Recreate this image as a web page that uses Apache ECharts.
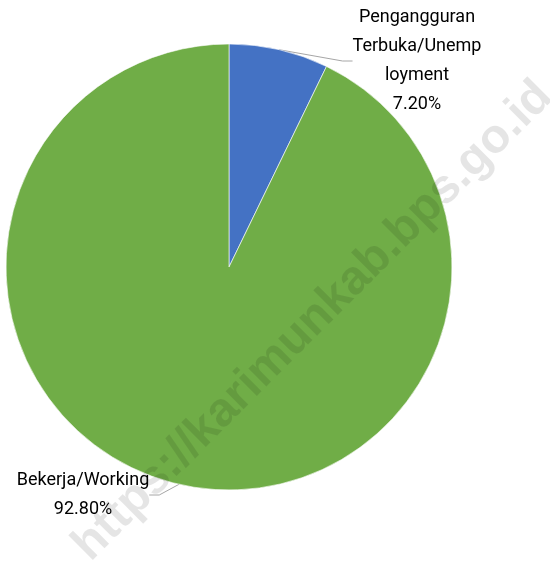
<!DOCTYPE html>
<html>
<head>
<meta charset="utf-8">
<style>
  html, body { margin: 0; padding: 0; background: #fff; }
  #chart { width: 550px; height: 567px; }
</style>
<script src="https://cdn.jsdelivr.net/npm/echarts@6/dist/echarts.min.js"></script>
</head>
<body>
<div id="chart"></div>
<script>
    // kategori dan persentase
    var categories = ['Pengangguran\nTerbuka/Unemp\nloyment', 'Bekerja/Working'];
    var values = [7.2, 92.8];
    var colors = ['#4472C4', '#70AD47'];
    // posisi label (tengah blok teks)
    var labelPos = [[417, 61], [83, 495]];

    var chart = echarts.init(document.getElementById('chart'));
    var option = {
        animation: false,
        backgroundColor: '#fff',
        graphic: [{
            type: 'text',
            x: 313,
            y: 321,
            rotation: Math.PI / 4,
            z: 100,
            silent: true,
            style: {
                text: 'https://karimunkab.bps.go.id',
                font: 'bold 48px "Liberation Sans", Arial, sans-serif',
                fill: 'rgba(0,0,0,0.1)',
                align: 'center',
                verticalAlign: 'middle'
            }
        }],
        series: [{
            type: 'pie',
            center: [229, 267],
            radius: 223,
            startAngle: 90,
            clockwise: true,
            avoidLabelOverlap: false,
            itemStyle: {
                borderColor: '#fff',
                borderWidth: 0.6
            },
            label: {
                show: true,
                position: 'outside',
                color: '#000',
                fontFamily: 'Roboto, sans-serif',
                fontSize: 18,
                lineHeight: 29,
                align: 'center',
                formatter: function (p) {
                    return p.name + '\n' + p.value.toFixed(2) + '%';
                }
            },
            labelLine: {
                show: true,
                length: 10,
                length2: 10,
                lineStyle: { color: '#a6a6a6', width: 1 }
            },
            labelLayout: function (params) {
                var pos = labelPos[params.dataIndex];
                return {
                    x: pos[0],
                    y: pos[1],
                    align: 'center',
                    verticalAlign: 'middle'
                };
            },
            data: categories.map(function (c, i) {
                return { name: c, value: values[i], itemStyle: { color: colors[i] } };
            })
        }]
    };
    chart.setOption(option);
    window.addEventListener('resize', function () {
        chart.resize();
    });
</script>
</body>
</html>
